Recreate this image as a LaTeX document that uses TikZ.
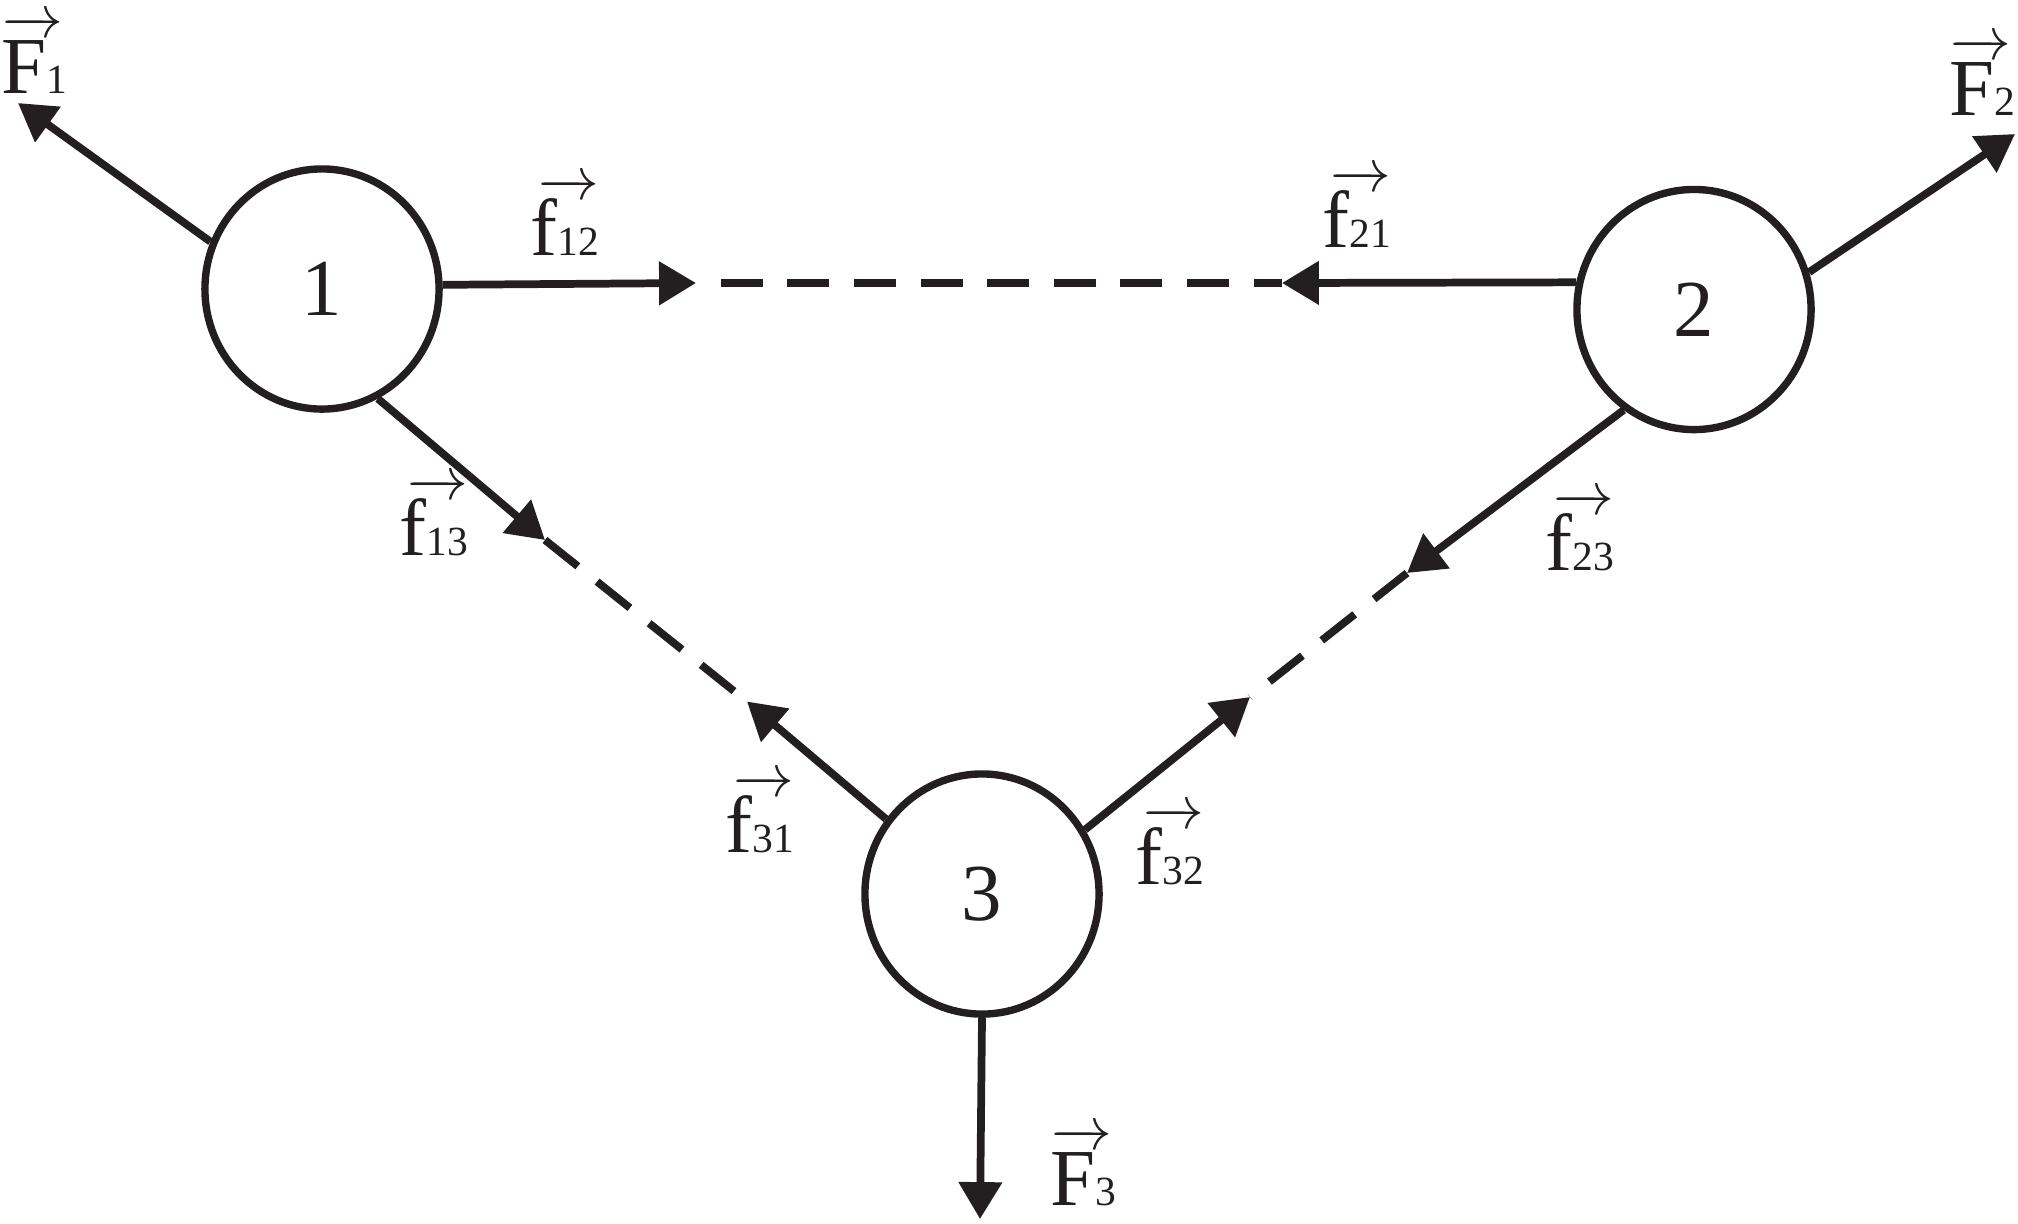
\documentclass[tikz,border=0pt]{standalone}
\usepackage[no-math]{fontspec}
\setmainfont{Liberation Serif}
\usetikzlibrary{arrows.meta,shapes.geometric}
\definecolor{ink}{RGB}{35,31,32}
\newcommand\subsz{\fontsize{11.8}{14}\selectfont}
\newcommand\arr[1]{\raisebox{16.8pt}{\fontsize{17.28}{19}\selectfont$\overrightarrow{\hbox to #1{}}$}}
\newcommand\VF[1]{F{\subsz #1}\llap{\arr{13.5pt}\kern1.3pt}}
\newcommand\vf[1]{f{\subsz #1}\llap{\arr{13pt}}}
\begin{document}
\begin{tikzpicture}[x=0.01cm,y=-0.01cm,
  every node/.style={font=\fontsize{23}{27}\selectfont,text=ink},
  ball/.style={ellipse,draw=ink,line width=2.1pt,minimum width=2.34cm,minimum height=2.40cm,inner sep=0pt},
  force/.style={draw=ink,line width=2.2pt,-{Triangle[length=10.5pt,width=11.95pt]}},
  dashline/.style={draw=ink,line width=2.2pt,dash pattern=on 11.95pt off 7pt},
  lab/.style={anchor=base west,inner sep=0pt}]
\useasboundingbox (0,0) rectangle (2018,1223);

\node[ball] (c1) at (322,289) {1};
\node[ball] (c2) at (1694,309.5) {2};
\node[ball] (c3) at (982,894) {3};

\coordinate (tF1) at (18,103);
\coordinate (tF2) at (2015,134);
\coordinate (tF3) at (980,1219);
\coordinate (t12) at (696,283);
\coordinate (t21) at (1282,283);
\coordinate (t13) at (545,540);
\coordinate (t31) at (747,701.5);
\coordinate (t23) at (1407,573);
\coordinate (t32) at (1250,697);

\draw[dashline,dash phase=11.95pt] (t12) -- (t21);
\draw[dashline] (t13) -- (t31);
\draw[dashline] (t23) -- (t32);

\draw[force] (c1.157.3) -- (tF1);
\draw[force] (c1.2.9) -- (t12);
\draw[force] (c1.-63.2) -- (t13);
\draw[force] (c2.18.2) -- (tF2);
\draw[force] (c2.167.3) -- (t21);
\draw[force] (c2.-125.1) -- (t23);
\draw[force] (c3.142.2) -- (t31);
\draw[force] (c3.32.6) -- (t32);
\draw[force] (c3.south) -- (tF3);

\node[lab] (lF1) at (1,93) {\VF{1}};
\node[lab] (lF2) at (1949,115) {\VF{2}};
\node[lab] (lF3) at (1050,1205) {\VF{3}};
\node[lab] (l12) at (530,255) {\vf{12}};
\node[lab] (l21) at (1322,247) {\vf{21}};
\node[lab] (l13) at (399,555) {\vf{13}};
\node[lab] (l31) at (725,852) {\vf{31}};
\node[lab] (l23) at (1545,570) {\vf{23}};
\node[lab] (l32) at (1135,884) {\vf{32}};
\end{tikzpicture}
\end{document}
